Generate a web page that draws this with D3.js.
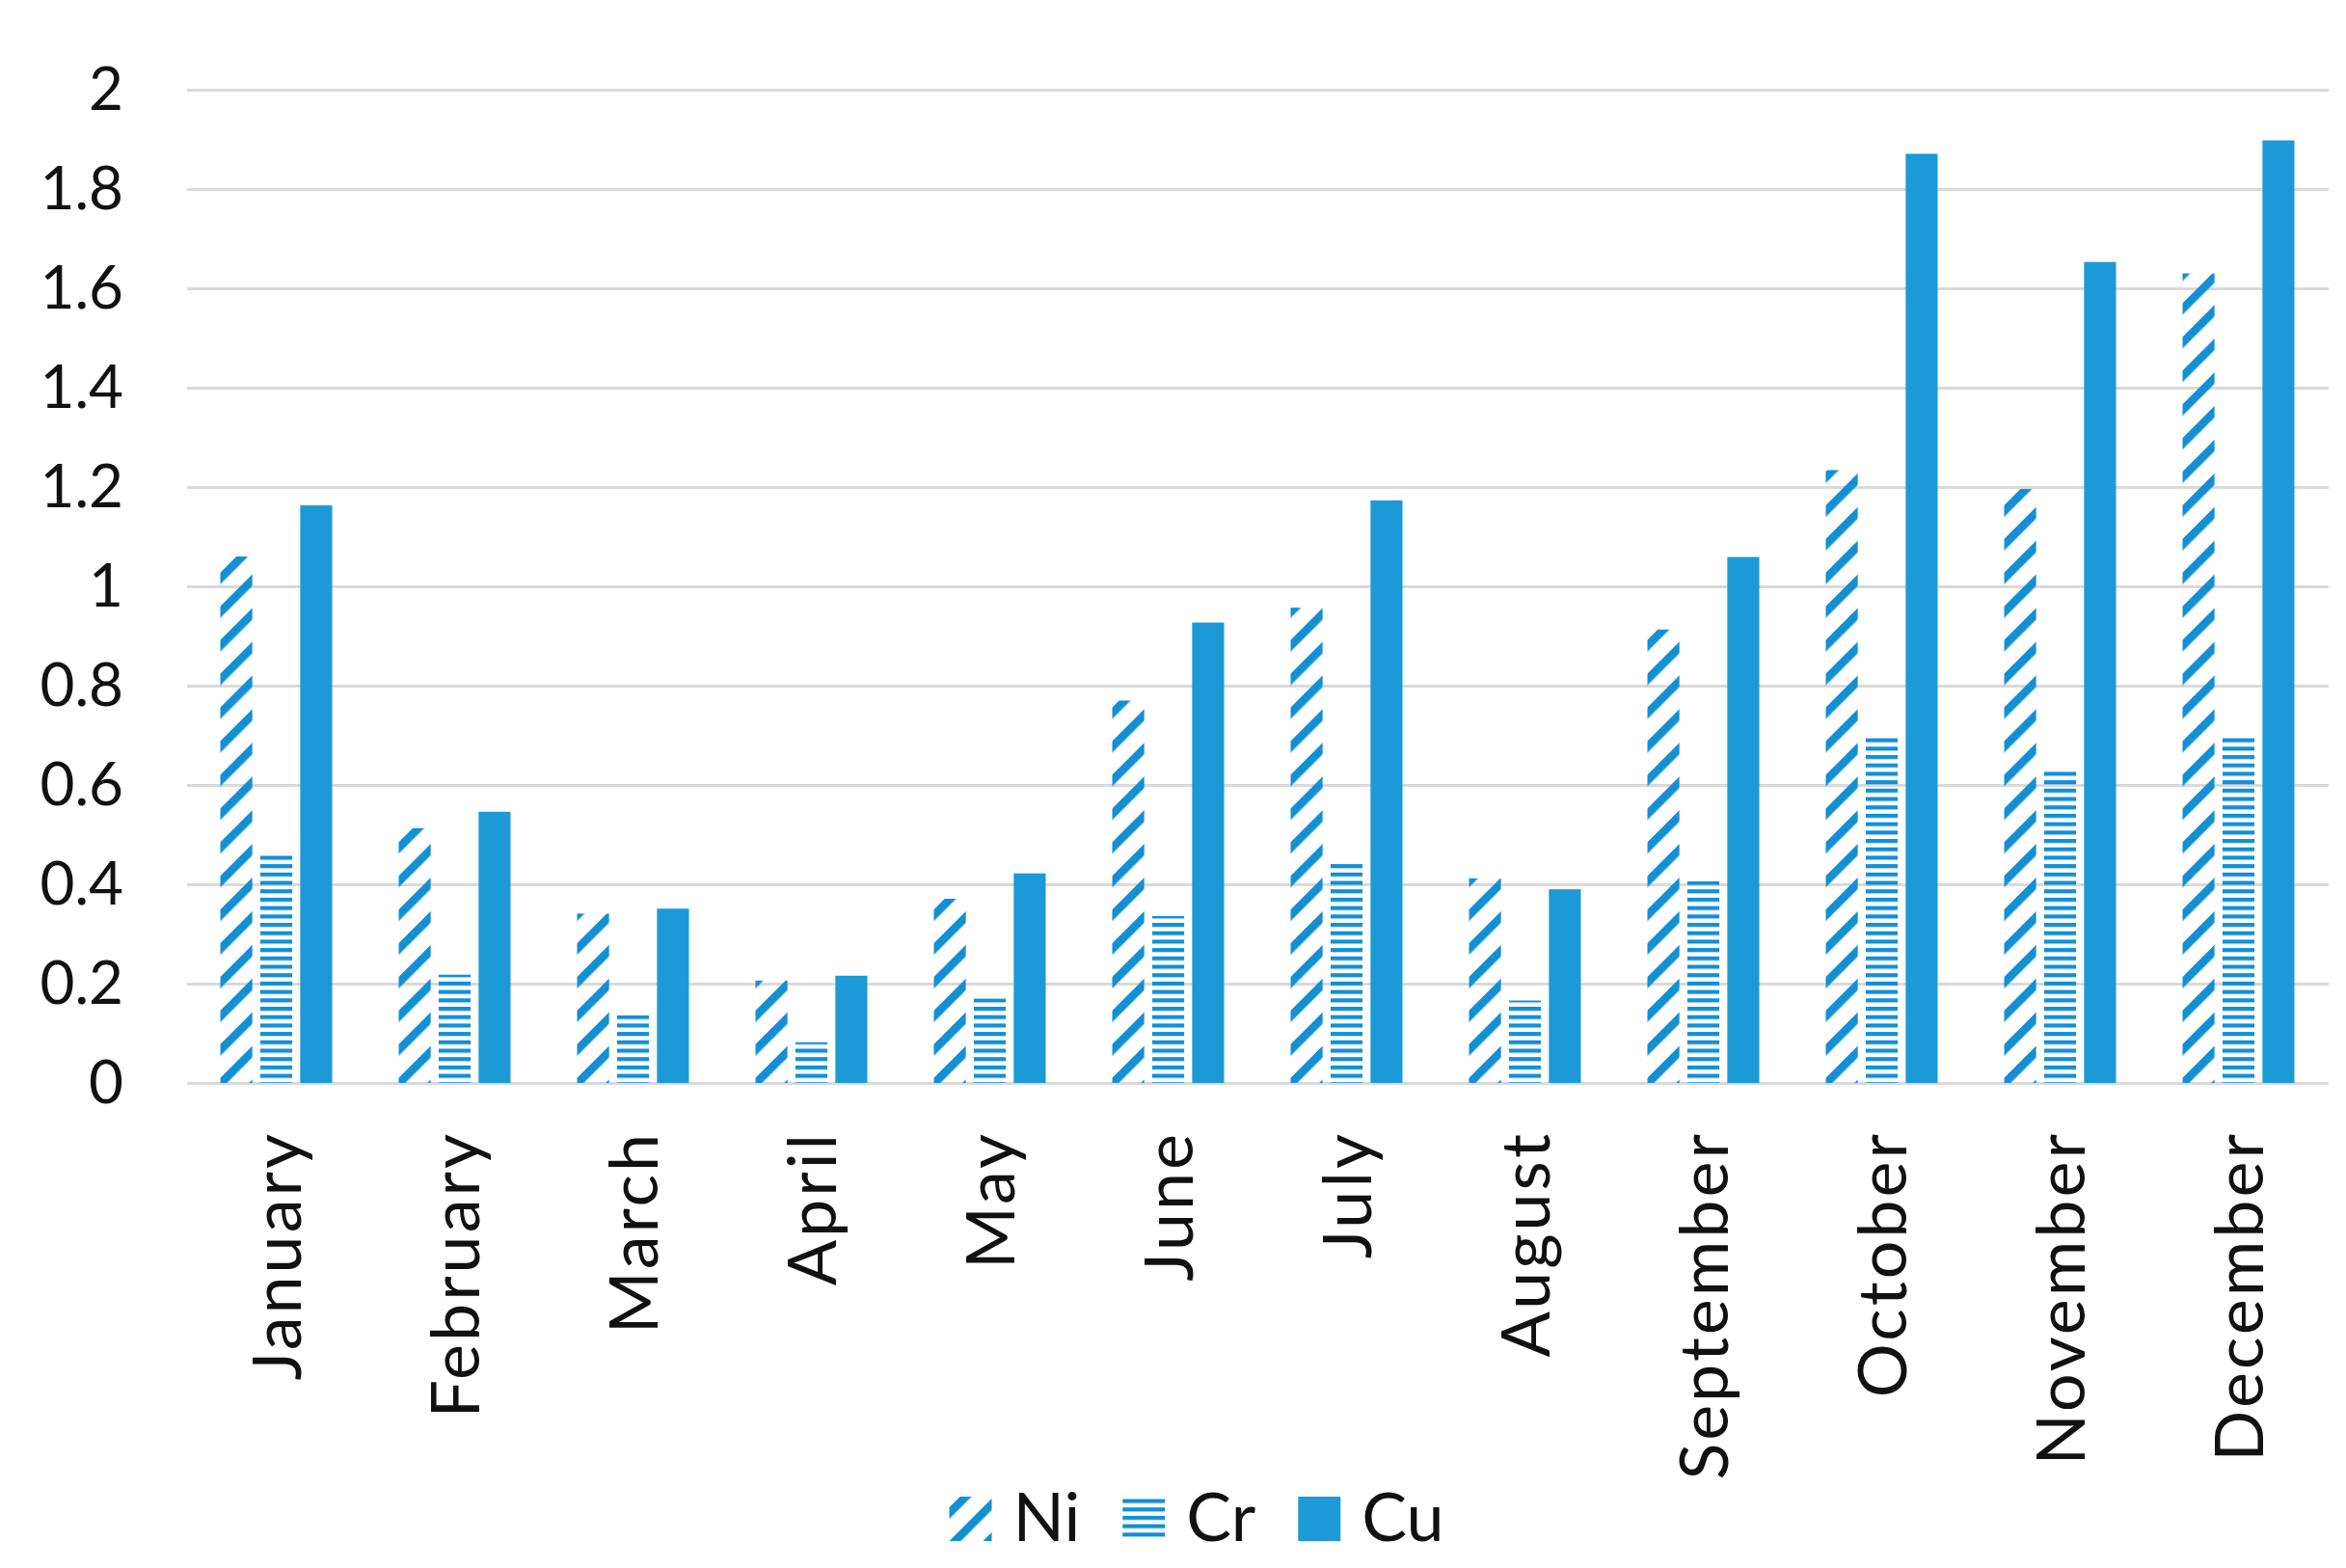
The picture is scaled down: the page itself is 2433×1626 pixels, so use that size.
<!DOCTYPE html>
<html>
<head>
<meta charset="utf-8">
<script src="https://cdn.jsdelivr.net/npm/d3@7"></script>
<style>
  html, body { margin: 0; padding: 0; background: #ffffff; }
  svg { display: block; }
  text { font-family: Lato, "Open Sans", "Liberation Sans", sans-serif; fill: #111; }
</style>
</head>
<body>
<svg id="chart" width="2433" height="1626"></svg>
<script>
// ---- data ----
const months = ["January", "February", "March", "April", "May", "June",
                "July", "August", "September", "October", "November", "December"];
const seriesNames = ["Ni", "Cr", "Cu"];
const niValues = [1.06, 0.513, 0.341, 0.206, 0.371, 0.77, 0.957, 0.412, 0.913, 1.234, 1.196, 1.63];
const crValues = [0.458, 0.218, 0.136, 0.082, 0.17, 0.336, 0.446, 0.166, 0.406, 0.697, 0.628, 0.697];
const cuValues = [1.163, 0.546, 0.351, 0.216, 0.422, 0.927, 1.173, 0.39, 1.059, 1.871, 1.653, 1.898];
const yTickValues = [0, 0.2, 0.4, 0.6, 0.8, 1, 1.2, 1.4, 1.6, 1.8, 2];
const yTickLabels = ["0", "0.2", "0.4", "0.6", "0.8", "1", "1.2", "1.4", "1.6", "1.8", "2"];

const rows = months.map((m, i) => ({ month: m, Ni: niValues[i], Cr: crValues[i], Cu: cuValues[i] }));

// ---- layout ----
const W = 2433, H = 1626;
const plotLeft = 194, plotRight = 2414, plotTop = 93, plotBottom = 1123;
const blue = "#1b9ad7";
const patBlue = "#138fd4";

const svg = d3.select("#chart");
svg.append("rect").attr("width", W).attr("height", H).attr("fill", "#fff");

const defs = svg.append("defs");
// Ni: wide upward diagonal
const niP = 24.7;
const pNi = defs.append("pattern")
  .attr("id", "patNi").attr("patternUnits", "userSpaceOnUse")
  .attr("width", niP).attr("height", niP)
  .attr("patternTransform", "rotate(-45)");
pNi.append("rect").attr("x", 0).attr("y", 0).attr("width", niP).attr("height", 8.5).attr("fill", patBlue);
// Cr: narrow horizontal
const pCr = defs.append("pattern")
  .attr("id", "patCr").attr("patternUnits", "userSpaceOnUse")
  .attr("width", 10).attr("height", 8.7);
pCr.append("rect").attr("x", 0).attr("y", 0).attr("width", 10).attr("height", 4.2).attr("fill", patBlue);

const fills = { Ni: "url(#patNi)", Cr: "url(#patCr)", Cu: blue };

const x0 = d3.scaleBand().domain(months).range([plotLeft, plotRight])
  .paddingInner(0.373).paddingOuter(0.1865);
const x1 = d3.scaleBand().domain(seriesNames).range([0, x0.bandwidth()]).paddingInner(0.2);
const y = d3.scaleLinear().domain([0, 2]).range([plotBottom, plotTop]);

// gridlines + y labels
const yAxis = d3.axisLeft(y).tickValues(yTickValues)
  .tickSize(-(plotRight - plotLeft + 1))
  .tickFormat((d, i) => yTickLabels[i]);
const gy = svg.append("g").attr("transform", `translate(${plotLeft},0)`).call(yAxis);
gy.select(".domain").remove();
gy.selectAll(".tick line").attr("stroke", "#d9d9d9").attr("stroke-width", 3);
gy.selectAll(".tick text")
  .attr("x", -66).attr("dy", "0.33em")
  .attr("font-size", 62).attr("fill", "#111")
  .attr("font-family", "Lato, 'Open Sans', sans-serif");

// bars
const groups = svg.append("g").selectAll("g").data(rows).join("g")
  .attr("transform", d => `translate(${x0(d.month)},0)`);
groups.selectAll("rect")
  .data(d => seriesNames.map(s => ({ key: s, value: d[s] })))
  .join("rect")
  .attr("x", d => x1(d.key))
  .attr("width", x1.bandwidth())
  .attr("y", d => y(d.value))
  .attr("height", d => y(0) - y(d.value))
  .attr("fill", d => fills[d.key]);

// month labels
const xAxis = d3.axisBottom(x0).tickSize(0);
const gx = svg.append("g").attr("transform", `translate(0,${plotBottom})`).call(xAxis);
gx.select(".domain").remove();
gx.selectAll(".tick text")
  .attr("transform", "rotate(-90)")
  .attr("text-anchor", "end")
  .attr("x", -50).attr("y", 0).attr("dy", "0.36em")
  .attr("font-size", 70).attr("letter-spacing", 3).attr("fill", "#111")
  .attr("font-family", "Lato, 'Open Sans', sans-serif");

// legend
const legend = svg.append("g");
const sw = 44, gapText = 22, gapItem = 44;
let cursor = 0;
seriesNames.forEach(s => {
  const g = legend.append("g").attr("transform", `translate(${cursor},0)`);
  g.append("rect").attr("x", 0).attr("y", -46).attr("width", sw).attr("height", sw + 2).attr("fill", fills[s]);
  const t = g.append("text").attr("x", sw + gapText).attr("y", 0)
    .attr("font-size", 70).text(s);
  cursor += sw + gapText + t.node().getComputedTextLength() + gapItem;
});
const legendWidth = cursor - gapItem;
legend.attr("transform", `translate(${1241 - legendWidth / 2},${1598})`);
</script>
</body>
</html>
